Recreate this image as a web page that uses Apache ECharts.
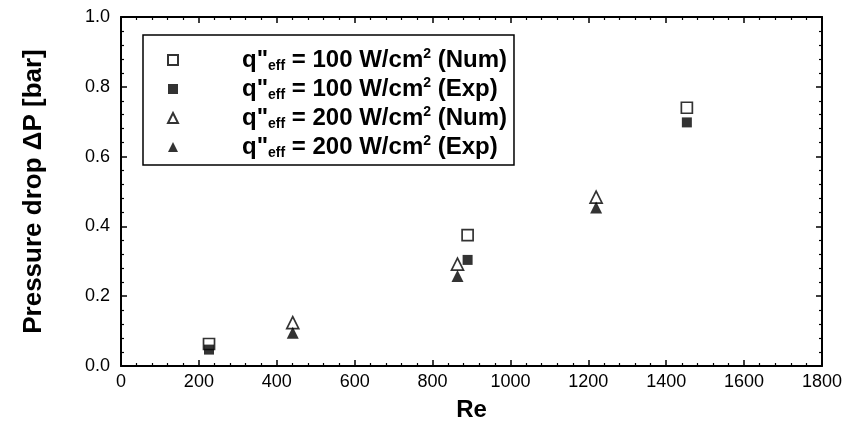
<!DOCTYPE html>
<html>
<head>
<meta charset="utf-8">
<script src="https://cdn.jsdelivr.net/npm/echarts@6/dist/echarts.min.js"></script>
<style>
html,body{margin:0;padding:0;background:#fff;}
#chart{width:848px;height:434px;}
</style>
</head>
<body>
<div id="chart"></div>
<script>
// Data: [Re, pressure drop in bar]
var num100 = [[226, 0.063], [890, 0.375], [1453, 0.740]];
var exp100 = [[226, 0.047], [890, 0.304], [1453, 0.698]];
var num200 = [[441, 0.124], [864, 0.292], [1220, 0.484]];
var exp200 = [[441, 0.095], [864, 0.258], [1220, 0.454]];
var seriesNames = ['num100', 'exp100', 'num200', 'exp200'];
var legendParts = {
  num100: ['100', 'Num'],
  exp100: ['100', 'Exp'],
  num200: ['200', 'Num'],
  exp200: ['200', 'Exp']
};
var xTitle = 'Re';
var yTitle = 'Pressure drop \u0394P [bar]';

var FONT = '"Liberation Sans", Arial, sans-serif';
var chart = echarts.init(document.getElementById('chart'), null, {renderer: 'canvas'});

function axisCommon() {
  return {
    axisLine: {show: true, onZero: false, lineStyle: {color: '#000', width: 2}},
    axisTick: {show: true, inside: true, length: 6, lineStyle: {color: '#000', width: 1.5}},
    minorTick: {show: true, splitNumber: 5, length: 3, lineStyle: {color: '#000', width: 1.2}},
    splitLine: {show: false},
    minorSplitLine: {show: false}
  };
}

var xMain = Object.assign(axisCommon(), {
  type: 'value', min: 0, max: 1800, interval: 200, position: 'bottom',
  name: xTitle, nameLocation: 'middle', nameGap: 32,
  nameTextStyle: {fontFamily: FONT, fontSize: 24, fontWeight: 'bold', color: '#000'},
  axisLabel: {fontFamily: FONT, fontSize: 18, color: '#000', margin: 7,
    formatter: function (v) { return String(v); }}
});
var xTop = Object.assign(axisCommon(), {
  type: 'value', min: 0, max: 1800, interval: 200, position: 'top',
  axisLabel: {show: false}
});
var yMain = Object.assign(axisCommon(), {
  type: 'value', min: 0, max: 1, interval: 0.2, position: 'left',
  name: yTitle, nameLocation: 'middle', nameGap: 74,
  nameTextStyle: {fontFamily: FONT, fontSize: 26, fontWeight: 'bold', color: '#000'},
  axisLabel: {fontFamily: FONT, fontSize: 18, color: '#000', margin: 11,
    formatter: function (v) { return v.toFixed(1); }}
});
var yRight = Object.assign(axisCommon(), {
  type: 'value', min: 0, max: 1, interval: 0.2, position: 'right',
  axisLabel: {show: false}
});

var styles = {
  num100: {symbol: 'rect', size: 11, item: {color: '#fff', borderColor: '#000', borderWidth: 1.7}},
  exp100: {symbol: 'rect', size: 10, item: {color: '#000', borderColor: '#000', borderWidth: 0}},
  num200: {symbol: 'triangle', size: 12, item: {color: '#fff', borderColor: '#000', borderWidth: 1.7}},
  exp200: {symbol: 'triangle', size: 12, item: {color: '#000', borderColor: '#000', borderWidth: 0}}
};
var dataMap = {num100: num100, exp100: exp100, num200: num200, exp200: exp200};

var series = seriesNames.map(function (n) {
  return {
    name: n, type: 'scatter', xAxisIndex: 0, yAxisIndex: 0,
    data: dataMap[n], symbol: styles[n].symbol, symbolSize: styles[n].size,
    itemStyle: styles[n].item, emphasis: {disabled: true}, z: 5
  };
});

chart.setOption({
  animation: false,
  backgroundColor: '#fff',
  grid: {left: 121, right: 26, top: 17, bottom: 68, containLabel: false},
  xAxis: [xMain, xTop],
  yAxis: [yMain, yRight],
  legend: {
    orient: 'vertical', left: 143, top: 35,
    padding: [12, 7, 5, 24],
    borderColor: '#000', borderWidth: 1.5, backgroundColor: '#fff',
    itemWidth: 10, itemHeight: 10, itemGap: 3,
    selectedMode: false,
    data: seriesNames.map(function (n) { return {name: n, icon: styles[n].symbol === 'rect' ? 'rect' : 'triangle'}; }),
    formatter: function (n) {
      var p = legendParts[n];
      return '{pad|}{b|q"}{sub|eff}{b| = ' + p[0] + ' W/cm}{sup|2}{b| (' + p[1] + ')}';
    },
    textStyle: {
      fontFamily: FONT, color: '#000',
      rich: {
        pad: {width: 59, lineHeight: 26},
        b: {fontFamily: FONT, fontSize: 24, fontWeight: 'bold', color: '#000', lineHeight: 26, verticalAlign: 'middle'},
        sub: {fontFamily: FONT, fontSize: 14, fontWeight: 'bold', color: '#000', lineHeight: 13, verticalAlign: 'bottom'},
        sup: {fontFamily: FONT, fontSize: 14, fontWeight: 'bold', color: '#000', lineHeight: 13, verticalAlign: 'top'}
      }
    }
  },
  series: series
});
</script>
</body>
</html>
